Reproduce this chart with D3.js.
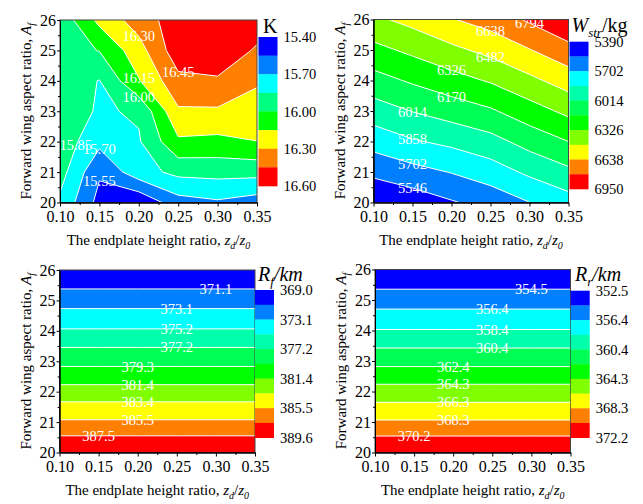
<!DOCTYPE html>
<html>
<head>
<meta charset="utf-8">
<script src="https://cdn.jsdelivr.net/npm/d3@7"></script>
<style>
  body { margin: 0; background: #fff; }
  svg { display: block; font-family: "Liberation Serif", "Times New Roman", serif; }
</style>
</head>
<body>
<svg id="chart" width="643" height="504"></svg>
<script>
// grid shared by all four maps: endplate height ratio (columns) x forward wing aspect ratio (rows)
const zRatio = [0.10, 0.15, 0.20, 0.25, 0.30, 0.35];
const aspect = [20, 21, 22, 23, 24, 25, 26];
const zMinor = [0.125, 0.175, 0.225, 0.275, 0.325];
const aMinor = [20.5, 21.5, 22.5, 23.5, 24.5, 25.5];

// K, rows from A_f = 20 up to A_f = 26
const kValues = [
  [15.82, 15.50, 15.42, 15.64, 15.68, 15.63],
  [15.91, 15.57, 15.79, 15.89, 15.90, 15.90],
  [15.94, 15.74, 15.835, 16.125, 16.11, 16.148],
  [15.95, 15.83, 15.87, 16.28, 16.28, 16.23],
  [15.93, 15.845, 16.14, 16.41, 16.43, 16.32],
  [15.94, 16.005, 16.24, 16.54, 16.56, 16.43],
  [15.90, 16.19, 16.37, 16.53, 16.59, 16.53]
];
const kLevels = [15.40, 15.55, 15.70, 15.85, 16.00, 16.15, 16.30, 16.45, 16.60];
const kBarTicks = [15.40, 15.70, 16.00, 16.30, 16.60];
const kLabelLevels = [15.55, 15.70, 15.85, 16.00, 16.15, 16.30, 16.45];
const kLabelX = [0.15, 0.15, 0.12, 0.20, 0.20, 0.20, 0.25];

// W_str (kg)
const wValues = [
  [5397, 5452, 5532, 5603, 5700, 5790],
  [5583, 5649, 5709, 5782, 5888, 5980],
  [5764, 5843, 5894, 5960, 6073, 6170],
  [5940, 6019, 6084, 6150, 6259, 6364],
  [6112, 6190, 6266, 6341, 6445, 6552],
  [6281, 6360, 6446, 6527, 6631, 6743],
  [6450, 6530, 6629, 6703, 6816, 6933]
];
const wLevels = [5390, 5546, 5702, 5858, 6014, 6170, 6326, 6482, 6638, 6794, 6950];
const wBarTicks = [5390, 5702, 6014, 6326, 6638, 6950];
const wLabelLevels = [5546, 5702, 5858, 6014, 6170, 6326, 6482, 6638, 6794];
const wLabelX = [0.15, 0.15, 0.15, 0.15, 0.20, 0.20, 0.25, 0.25, 0.30];

// R_f and R_r (km) do not change with z_d/z_0: one value per aspect ratio
const rfProfile = [389.6, 385.77, 382.21, 378.7, 375.4, 372.25, 369.2];
const rfLevels = [369.0, 371.1, 373.1, 375.2, 377.2, 379.3, 381.4, 383.4, 385.5, 387.5, 389.6];
const rfBarTicks = [369.0, 373.1, 377.2, 381.4, 385.5, 389.6];
const rfLabelLevels = [371.1, 373.1, 375.2, 377.2, 379.3, 381.4, 383.4, 385.5, 387.5];
const rfLabelX = [0.30, 0.25, 0.25, 0.25, 0.20, 0.20, 0.20, 0.20, 0.15];

const rrProfile = [372.17, 368.52, 365.08, 361.8, 358.5, 355.51, 352.66];
const rrLevels = [352.5, 354.5, 356.4, 358.4, 360.4, 362.4, 364.3, 366.3, 368.3, 370.2, 372.2];
const rrBarTicks = [352.5, 356.4, 360.4, 364.3, 368.3, 372.2];
const rrLabelLevels = [354.5, 356.4, 358.4, 360.4, 362.4, 364.3, 366.3, 368.3, 370.2];
const rrLabelX = [0.30, 0.25, 0.25, 0.25, 0.20, 0.20, 0.20, 0.20, 0.15];

const colors8 = ["#0000ff", "#0080ff", "#00ffff", "#00ff80", "#00ff00", "#ffff00", "#ff8000", "#ff0000"];
const colors10 = ["#0000ff", "#0080ff", "#00ffff", "#00ffaa", "#00ff55", "#00ff00", "#80ff00", "#ffff00", "#ff8000", "#ff0000"];

// build the full grid for the range maps from their profiles
const rfValues = rfProfile.map(v => zRatio.map(() => v));
const rrValues = rrProfile.map(v => zRatio.map(() => v));

const svg = d3.select("#chart");

// bilinear value at fractional grid index (fi, fj)
function fieldAt(values, fi, fj) {
  const i0 = Math.min(Math.floor(fi), values[0].length - 2);
  const j0 = Math.min(Math.floor(fj), values.length - 2);
  const ti = fi - i0, tj = fj - j0;
  const a = values[j0][i0] * (1 - ti) + values[j0][i0 + 1] * ti;
  const b = values[j0 + 1][i0] * (1 - ti) + values[j0 + 1][i0 + 1] * ti;
  return a * (1 - tj) + b * tj;
}

// first crossing of a level going up a column
function crossingRow(values, fi, level) {
  let prev = fieldAt(values, fi, 0) - level;
  for (let s = 1; s <= (values.length - 1) * 100; s++) {
    const fj = s / 100;
    const cur = fieldAt(values, fi, fj) - level;
    if (prev * cur <= 0 && cur !== prev) return fj - 0.01 * cur / (cur - prev);
    prev = cur;
  }
  return null;
}

function drawPanel(p) {
  const nx = zRatio.length, ny = aspect.length;
  const x = d3.scaleLinear().domain([zRatio[0], zRatio[nx - 1]]).range([p.frame.left, p.frame.right]);
  const y = d3.scaleLinear().domain([aspect[0], aspect[ny - 1]]).range([p.frame.bottom, p.frame.top]);
  // grid index -> data value
  const gx = d3.scaleLinear().domain([0, nx - 1]).range(x.domain());
  const gy = d3.scaleLinear().domain([0, ny - 1]).range(y.domain());

  const path = d3.geoPath(d3.geoTransform({
    point(cx, cy) { this.stream.point(x(gx(cx - 0.5)), y(gy(cy - 0.5))); }
  }));
  const bands = d3.contours()
    .size([nx, ny])
    .thresholds(p.levels.slice(0, -1))(p.values.flat());

  const g = svg.append("g");
  g.append("clipPath").attr("id", "clip-" + p.id)
    .append("rect")
    .attr("x", p.frame.left).attr("y", p.frame.top)
    .attr("width", p.frame.right - p.frame.left)
    .attr("height", p.frame.bottom - p.frame.top);

  const plot = g.append("g").attr("clip-path", `url(#clip-${p.id})`);
  plot.selectAll("path.band").data(bands).join("path")
    .attr("class", "band")
    .attr("d", path)
    .attr("fill", (d, i) => p.colors[i]);
  plot.selectAll("path.iso").data(bands.slice(1)).join("path")
    .attr("class", "iso")
    .attr("d", path)
    .attr("fill", "none")
    .attr("stroke", "#fff")
    .attr("stroke-width", 1);

  // contour labels sit on their line
  p.labelLevels.forEach((lv, i) => {
    const fi = gx.invert(p.labelX[i]);
    const fj = crossingRow(p.values, fi, lv);
    if (fj === null) return;
    plot.append("text")
      .attr("x", x(p.labelX[i]))
      .attr("y", y(gy(fj)))
      .attr("dy", "0.35em")
      .attr("text-anchor", "middle")
      .attr("fill", "#fff")
      .attr("font-size", 14.5)
      .text(p.labelFormat(lv));
  });

  g.append("rect")
    .attr("x", p.frame.left).attr("y", p.frame.top)
    .attr("width", p.frame.right - p.frame.left)
    .attr("height", p.frame.bottom - p.frame.top)
    .attr("fill", "none")
    .attr("stroke", "#444")
    .attr("stroke-width", 1);

  // axes
  g.append("g")
    .attr("transform", `translate(0,${p.frame.bottom})`)
    .call(d3.axisBottom(x).tickValues(zRatio).tickFormat(d3.format(".2f"))
      .tickSize(4).tickSizeOuter(0).tickPadding(4));
  g.append("g")
    .attr("transform", `translate(0,${p.frame.bottom})`)
    .call(d3.axisBottom(x).tickValues(zMinor).tickFormat("").tickSize(2.5).tickSizeOuter(0));
  g.append("g")
    .attr("transform", `translate(${p.frame.left},0)`)
    .call(d3.axisLeft(y).tickValues(aspect).tickFormat(d3.format("d"))
      .tickSize(3).tickSizeOuter(0).tickPadding(1));
  g.append("g")
    .attr("transform", `translate(${p.frame.left},0)`)
    .call(d3.axisLeft(y).tickValues(aMinor).tickFormat("").tickSize(2).tickSizeOuter(0));
  g.selectAll(".tick text")
    .attr("font-size", 16)
    .attr("font-family", "Liberation Serif, serif");
  g.selectAll(".domain, .tick line").attr("stroke", "#000");

  // axis titles
  const xt = g.append("text")
    .attr("x", (p.frame.left + p.frame.right) / 2)
    .attr("y", p.frame.bottom + 42)
    .attr("text-anchor", "middle")
    .attr("font-size", 15);
  xt.append("tspan").text("The endplate height ratio, ");
  xt.append("tspan").attr("font-style", "italic").text("z");
  xt.append("tspan").attr("font-style", "italic").attr("font-size", 10).attr("dy", 4).text("d");
  xt.append("tspan").attr("dy", -4).text("/");
  xt.append("tspan").attr("font-style", "italic").text("z");
  xt.append("tspan").attr("font-style", "italic").attr("font-size", 10).attr("dy", 4).text("0");

  const yt = g.append("text")
    .attr("transform", `translate(${p.frame.left - 29},${(p.frame.top + p.frame.bottom) / 2}) rotate(-90)`)
    .attr("text-anchor", "middle")
    .attr("font-size", 15);
  yt.append("tspan").text("Forward wing aspect ratio, ");
  yt.append("tspan").attr("font-style", "italic").text("A");
  yt.append("tspan").attr("font-style", "italic").attr("font-size", 10).attr("dy", 4).text("f");

  // colour bar, lowest level on top
  const nb = p.levels.length - 1;
  const by = d3.scaleLinear().domain([0, nb]).range([p.bar.top, p.bar.bottom]);
  g.selectAll("rect.key").data(p.colors).join("rect")
    .attr("class", "key")
    .attr("x", p.bar.left)
    .attr("y", (d, i) => by(i))
    .attr("width", p.bar.width)
    .attr("height", (d, i) => by(i + 1) - by(i) + 0.3)
    .attr("fill", d => d);
  g.selectAll("text.key").data(p.barTicks).join("text")
    .attr("class", "key")
    .attr("x", p.bar.left + p.bar.width + 6)
    .attr("y", d => by(p.levels.indexOf(d)))
    .attr("dy", "0.35em")
    .attr("font-size", 14.5)
    .text(d => p.labelFormat(d));

  const tt = g.append("text")
    .attr("x", p.title.x).attr("y", p.title.y)
    .attr("font-size", 20);
  p.title.runs.forEach(r => {
    const s = tt.append("tspan").text(r.t);
    if (r.it) s.attr("font-style", "italic");
    if (r.sub) s.attr("font-size", 13).attr("dy", 5);
    if (r.up) s.attr("dy", -5);
  });
}

drawPanel({
  id: "k", values: kValues, levels: kLevels, colors: colors8,
  barTicks: kBarTicks, labelLevels: kLabelLevels, labelX: kLabelX,
  labelFormat: d3.format(".2f"),
  frame: { left: 60, right: 257, top: 20, bottom: 202.5 },
  bar: { left: 258.5, width: 19, top: 37, bottom: 186 },
  title: { x: 263, y: 33, runs: [{ t: "K" }] }
});

drawPanel({
  id: "w", values: wValues, levels: wLevels, colors: colors10,
  barTicks: wBarTicks, labelLevels: wLabelLevels, labelX: wLabelX,
  labelFormat: d3.format("d"),
  frame: { left: 373.5, right: 568.5, top: 19.5, bottom: 202.5 },
  bar: { left: 569.5, width: 19, top: 41.7, bottom: 189 },
  title: { x: 571.5, y: 32, runs: [{ t: "W", it: true }, { t: "str", it: true, sub: true }, { t: "/kg", up: true }] }
});

drawPanel({
  id: "rf", values: rfValues, levels: rfLevels, colors: colors10,
  barTicks: rfBarTicks, labelLevels: rfLabelLevels, labelX: rfLabelX,
  labelFormat: d3.format(".1f"),
  frame: { left: 59.5, right: 255, top: 270, bottom: 452.5 },
  bar: { left: 255, width: 19, top: 290, bottom: 437.7 },
  title: { x: 258, y: 281, runs: [{ t: "R", it: true }, { t: "f", it: true, sub: true }, { t: "/km", it: true, up: true }] }
});

drawPanel({
  id: "rr", values: rrValues, levels: rrLevels, colors: colors10,
  barTicks: rrBarTicks, labelLevels: rrLabelLevels, labelX: rrLabelX,
  labelFormat: d3.format(".1f"),
  frame: { left: 375, right: 570.5, top: 269.5, bottom: 452.5 },
  bar: { left: 570.7, width: 19, top: 290.7, bottom: 437.7 },
  title: { x: 575, y: 281, runs: [{ t: "R", it: true }, { t: "r", it: true, sub: true }, { t: "/km", it: true, up: true }] }
});
</script>
</body>
</html>
